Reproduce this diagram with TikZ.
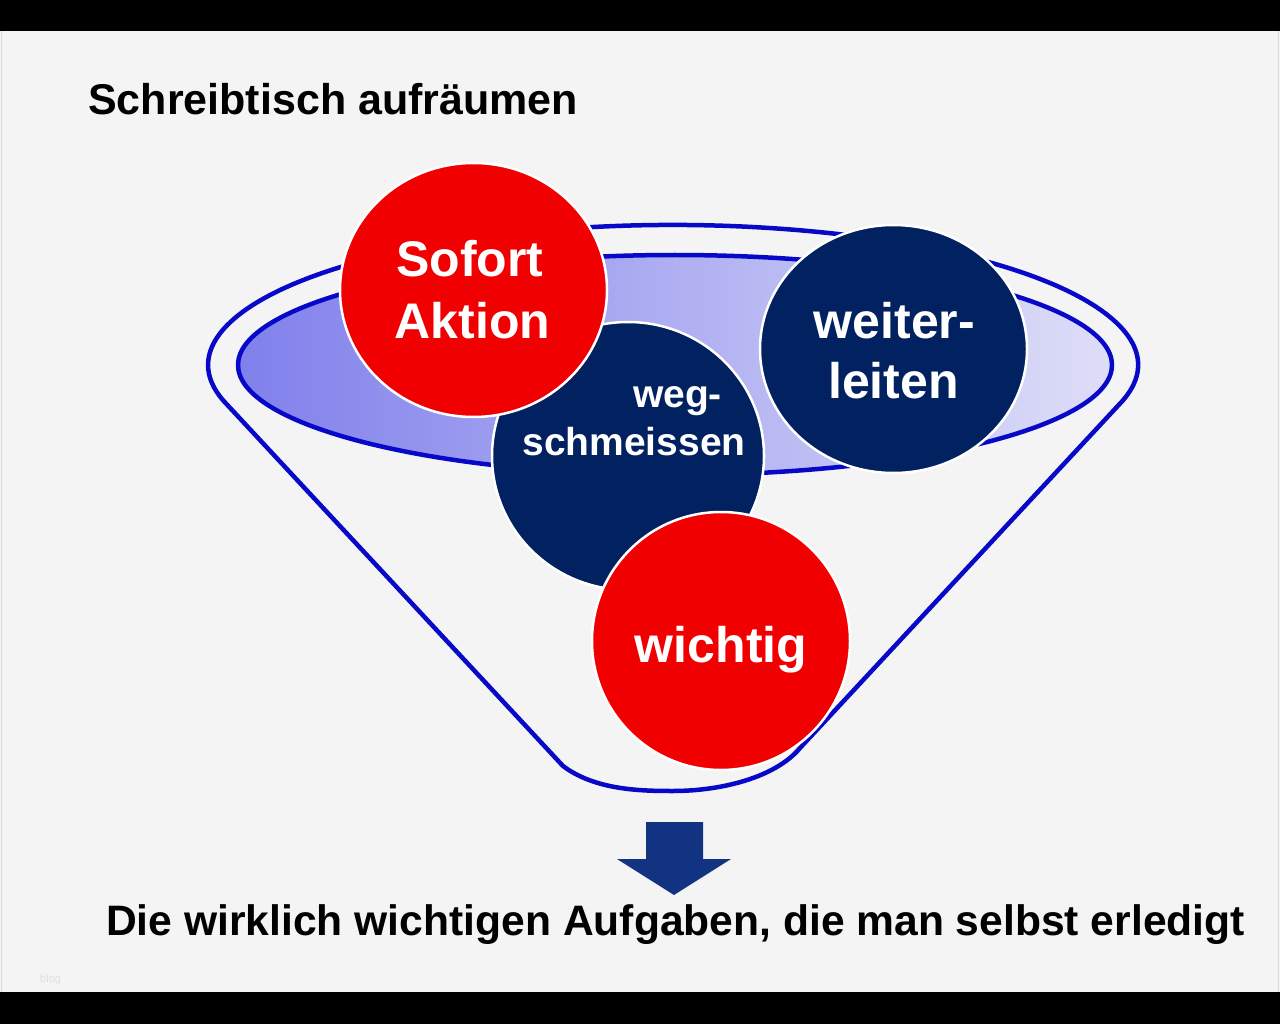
\documentclass[tikz,border=0pt]{standalone}
\usepackage{fontspec}
\setmainfont{Liberation Sans}
\usetikzlibrary{shapes.geometric}
\definecolor{bg}{RGB}{244,244,244}
\definecolor{funnelblue}{RGB}{8,8,200}
\definecolor{navy}{RGB}{2,33,96}
\definecolor{sred}{RGB}{240,0,0}
\definecolor{arrowblue}{RGB}{18,50,130}
\definecolor{lavL}{RGB}{128,128,236}
\definecolor{lavR}{RGB}{222,222,248}
\begin{document}
\begin{tikzpicture}[x=1pt,y=-1pt,
  funnelline/.style={draw=funnelblue,line width=4.5pt,line join=round},
  ball/.style={ellipse,draw=white,line width=2.5pt,inner sep=0pt},
  redball/.style={ball,fill=sred},
  navyball/.style={ball,fill=navy},
  balltext/.style={text=white,font=\bfseries\fontsize{50}{60}\selectfont,anchor=base,inner sep=0pt},
  smalltext/.style={text=white,font=\bfseries\fontsize{39}{46}\selectfont,anchor=base,inner sep=0pt},
  headline/.style={anchor=base west,inner sep=0pt,text=black}
]
\useasboundingbox (0,0) rectangle (1280,1024);
\fill[bg] (0,0) rectangle (1280,1024);
\fill[black] (0,0) rectangle (1280,31.5);
\fill[black] (0,992) rectangle (1280,1024);
\draw[black!15,line width=1pt] (1.5,31.5) -- (1.5,992) (1278.5,31.5) -- (1278.5,992);

% funnel
\draw[funnelline] (800,748) -- (1122.2,401.2)
  arc[start angle=15, end angle=-195, x radius=465, y radius=140]
  -- (563,766) .. controls (595,790) and (640,791) .. (673,791)
  .. controls (720,791) and (775,778) .. (800,748);
\draw[funnelline,left color=lavL,right color=lavR] (675,365) ellipse [x radius=437, y radius=110];

% circles
\node[navyball,minimum width=272,minimum height=268] (weg) at (628,456) {};
\node[navyball,minimum width=267,minimum height=248] (weiter) at (893.5,349) {};
\node[redball,minimum width=267,minimum height=254] (sofort) at (473.5,290) {};
\node[redball,minimum width=258,minimum height=258] (wichtig) at (721,641) {};

\node[balltext] (sofortA) at (470,277) {Sofort};
\node[balltext] (sofortB) at (472.5,338) {Aktion};
\node[balltext] (weiterA) at (894.5,338) {weiter-};
\node[balltext] (weiterB) at (893.5,398) {leiten};
\node[smalltext] (wegA) at (677.5,407) {weg-};
\node[smalltext] (wegB) at (634,455) {schmeissen};
\node[balltext] (wichtigT) at (721,662) {wichtig};

% arrow
\fill[arrowblue] (646,822) -- (703,822) -- (703,859) -- (731,859) -- (674,895)
  -- (617,859) -- (646,859) -- cycle;

% texts
\node[headline,font=\bfseries\fontsize{43}{50}\selectfont] (title) at (88,115) {Schreibtisch aufräumen};
\node[headline,font=\bfseries\fontsize{42.6}{50}\selectfont] (result) at (106,935) {Die wirklich wichtigen Aufgaben, die man selbst erledigt};
\node[anchor=base west,inner sep=0pt,text=black!12,font=\fontsize{11}{12}\selectfont] (wm) at (40,982) {blog};
\end{tikzpicture}
\end{document}
